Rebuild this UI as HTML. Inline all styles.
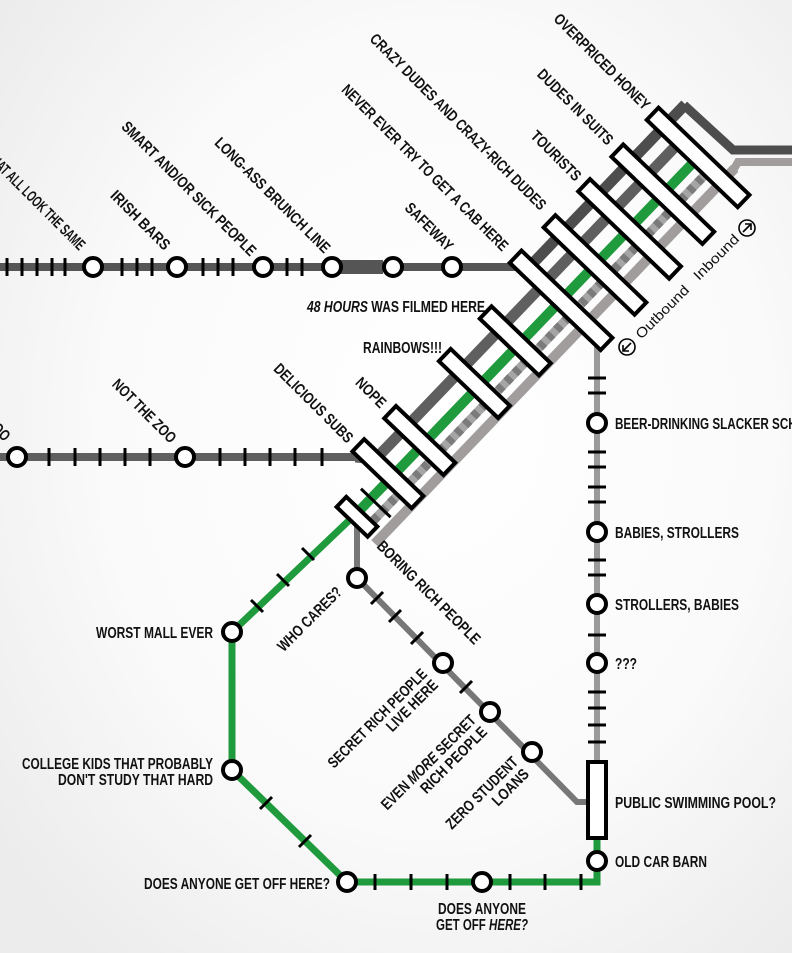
<!DOCTYPE html>
<html><head><meta charset="utf-8"><style>
html,body{margin:0;padding:0;}
body{width:792px;height:953px;overflow:hidden;}
svg{display:block;}
text{font-family:"Liberation Sans Narrow","Liberation Sans",sans-serif;font-weight:bold;font-size:15.5px;fill:#111;}
.r{font-weight:normal;font-family:"Liberation Sans",sans-serif;font-size:14px;}
</style></head><body>
<svg width="792" height="953" viewBox="0 0 792 953" xmlns="http://www.w3.org/2000/svg">
<defs>
<radialGradient id="bg" cx="55%" cy="45%" r="70%">
<stop offset="0" stop-color="#ffffff"/><stop offset="0.6" stop-color="#fafafa"/><stop offset="1" stop-color="#ececec"/>
</radialGradient>
</defs>
<rect width="792" height="953" fill="url(#bg)"/>

<line x1="0" y1="267" x2="516" y2="267" stroke="#555" stroke-width="8"/>
<line x1="333" y1="267" x2="383" y2="267" stroke="#555" stroke-width="14"/>
<line x1="0" y1="457" x2="356" y2="457" stroke="#5f5f5f" stroke-width="8"/>
<g stroke="#000" stroke-width="3">
<line x1="7" y1="258" x2="7" y2="276"/><line x1="22" y1="258" x2="22" y2="276"/><line x1="37" y1="258" x2="37" y2="276"/><line x1="52" y1="258" x2="52" y2="276"/><line x1="65" y1="258" x2="65" y2="276"/>
<line x1="122" y1="258" x2="122" y2="276"/><line x1="137" y1="258" x2="137" y2="276"/><line x1="152" y1="258" x2="152" y2="276"/>
<line x1="203" y1="258" x2="203" y2="276"/><line x1="218" y1="258" x2="218" y2="276"/><line x1="233" y1="258" x2="233" y2="276"/>
<line x1="287" y1="258" x2="287" y2="276"/><line x1="302" y1="258" x2="302" y2="276"/>
<line x1="49" y1="448" x2="49" y2="466"/><line x1="75" y1="448" x2="75" y2="466"/><line x1="100" y1="448" x2="100" y2="466"/><line x1="125" y1="448" x2="125" y2="466"/><line x1="150" y1="448" x2="150" y2="466"/>
<line x1="220" y1="448" x2="220" y2="466"/><line x1="245" y1="448" x2="245" y2="466"/><line x1="270" y1="448" x2="270" y2="466"/><line x1="295" y1="448" x2="295" y2="466"/><line x1="322" y1="448" x2="322" y2="466"/>
</g>

<polyline points="684,105 733,150 792,150" fill="none" stroke="#4d4d4d" stroke-width="9"/>
<polyline points="734,169 738,162 792,162" fill="none" stroke="#a19d9d" stroke-width="8"/>

<polyline points="357,522 357,578 577,802 590,802" fill="none" stroke="#777" stroke-width="6"/>
<g stroke="#000" stroke-width="3">
<line x1="371" y1="604" x2="383" y2="592"/><line x1="389" y1="622" x2="401" y2="610"/><line x1="411" y1="644" x2="423" y2="632"/><line x1="460" y1="693" x2="472" y2="681"/>
</g>

<line x1="597" y1="340" x2="597" y2="765" stroke="#9a9a9a" stroke-width="6"/>
<g stroke="#000" stroke-width="3">
<line x1="588" y1="378" x2="606" y2="378"/><line x1="588" y1="393" x2="606" y2="393"/>
<line x1="588" y1="452" x2="606" y2="452"/><line x1="588" y1="467" x2="606" y2="467"/><line x1="588" y1="487" x2="606" y2="487"/><line x1="588" y1="502" x2="606" y2="502"/>
<line x1="588" y1="560" x2="606" y2="560"/><line x1="588" y1="575" x2="606" y2="575"/>
<line x1="588" y1="635" x2="606" y2="635"/>
<line x1="588" y1="692" x2="606" y2="692"/><line x1="588" y1="708" x2="606" y2="708"/><line x1="588" y1="725" x2="606" y2="725"/><line x1="588" y1="742" x2="606" y2="742"/>
</g>

<polyline points="360,510 232,632 232,770 347,882 597,882 597,838" fill="none" stroke="#1f9a3c" stroke-width="7" stroke-linejoin="miter"/>
<g stroke="#000" stroke-width="3">
<line x1="302" y1="548" x2="314" y2="560"/><line x1="277" y1="574" x2="289" y2="586"/><line x1="251" y1="600" x2="263" y2="612"/>
<line x1="260" y1="809" x2="272" y2="797"/><line x1="299" y1="847" x2="311" y2="835"/>
<line x1="375" y1="874" x2="375" y2="890"/><line x1="411" y1="874" x2="411" y2="890"/><line x1="447" y1="874" x2="447" y2="890"/>
<line x1="510" y1="874" x2="510" y2="890"/><line x1="545" y1="874" x2="545" y2="890"/><line x1="581" y1="874" x2="581" y2="890"/>
</g>

<g transform="translate(360,510) rotate(-46.2)">
<polyline points="35,-40 48,-24 495,-24" fill="none" stroke="#5f5f5f" stroke-width="11"/>
<polyline points="283,-56 296,-46 518,-46" fill="none" stroke="#4d4d4d" stroke-width="11"/>
<line x1="-2" y1="0" x2="480" y2="0" stroke="#1f9a3c" stroke-width="10"/>
<line x1="-10" y1="17" x2="490" y2="17" stroke="#a5a5a5" stroke-width="9"/>
<line x1="-10" y1="17" x2="490" y2="17" stroke="#7b7b7b" stroke-width="9" stroke-dasharray="6 6"/>
<line x1="-14" y1="34" x2="506" y2="34" stroke="#a19d9d" stroke-width="10"/>
<line x1="16" y1="-14" x2="16" y2="27" stroke="#000" stroke-width="3"/>
<g fill="#fff" stroke="#000" stroke-width="4">
<rect x="-14" y="-19" width="14" height="43"/>
<rect x="37" y="-46" width="17" height="82"/>
<rect x="83" y="-46" width="17" height="82"/>
<rect x="162" y="-46" width="17" height="82"/>
<rect x="221" y="-46" width="17" height="82"/>
<rect x="282" y="-63" width="17" height="126"/>
<rect x="331" y="-63" width="17" height="126"/>
<rect x="381" y="-63" width="17" height="126"/>
<rect x="429" y="-63" width="17" height="126"/>
<rect x="480" y="-63" width="17" height="126"/>
</g>
</g>

<rect x="588" y="762" width="18" height="76" fill="#fff" stroke="#000" stroke-width="4"/>

<g fill="#fff" stroke="#000" stroke-width="4">
<circle cx="93" cy="267" r="9"/><circle cx="177" cy="267" r="9"/><circle cx="263" cy="267" r="9"/><circle cx="332" cy="267" r="9"/><circle cx="393" cy="267" r="9"/><circle cx="452" cy="267" r="9"/>
<circle cx="17" cy="457" r="9"/><circle cx="185" cy="457" r="9"/>
<circle cx="357" cy="578" r="9"/><circle cx="443" cy="663" r="9"/><circle cx="490" cy="712" r="9"/><circle cx="532" cy="752" r="9"/>
<circle cx="597" cy="423" r="9"/><circle cx="597" cy="532" r="9"/><circle cx="597" cy="604" r="9"/><circle cx="597" cy="663" r="9"/><circle cx="597" cy="861" r="9"/>
<circle cx="232" cy="632" r="9"/><circle cx="232" cy="770" r="9"/><circle cx="347" cy="882" r="9"/><circle cx="482" cy="882" r="9"/>
</g>

<g fill="none" stroke="#000" stroke-width="1.6">
<circle cx="627" cy="347" r="8"/>
<line x1="631" y1="343" x2="623" y2="351"/><polyline points="623,345 623,351 629,351"/>
<circle cx="747" cy="228" r="8"/>
<line x1="743" y1="232" x2="751" y2="224"/><polyline points="745,224 751,224 751,230"/>
</g>
<text class="r" x="690" y="291" text-anchor="end" transform="rotate(-45 690 291)" textLength="69" lengthAdjust="spacingAndGlyphs">Outbound</text>
<text class="r" x="740" y="240" text-anchor="end" transform="rotate(-45 740 240)" textLength="58" lengthAdjust="spacingAndGlyphs">Inbound</text>

<g text-anchor="end">
<text x="79" y="251" transform="rotate(45 79 251)" textLength="132" lengthAdjust="spacingAndGlyphs">THAT ALL LOOK THE SAME</text>
<text x="164" y="251" transform="rotate(45 164 251)" textLength="77" lengthAdjust="spacingAndGlyphs">IRISH BARS</text>
<text x="250" y="257" transform="rotate(45 250 257)" textLength="183" lengthAdjust="spacingAndGlyphs">SMART AND/OR SICK PEOPLE</text>
<text x="324" y="254" transform="rotate(45 324 254)" textLength="156" lengthAdjust="spacingAndGlyphs">LONG-ASS BRUNCH LINE</text>
<text x="447" y="252" transform="rotate(45 447 252)" textLength="61" lengthAdjust="spacingAndGlyphs">SAFEWAY</text>
<text x="502" y="252" transform="rotate(45 502 252)" textLength="228" lengthAdjust="spacingAndGlyphs">NEVER EVER TRY TO GET A CAB HERE</text>
<text x="540" y="211" transform="rotate(45 540 211)" textLength="242" lengthAdjust="spacingAndGlyphs">CRAZY DUDES AND CRAZY-RICH DUDES</text>
<text x="575" y="182" transform="rotate(45 575 182)" textLength="64" lengthAdjust="spacingAndGlyphs">TOURISTS</text>
<text x="607" y="146" transform="rotate(45 607 146)" textLength="100" lengthAdjust="spacingAndGlyphs">DUDES IN SUITS</text>
<text x="644" y="111" transform="rotate(45 644 111)" textLength="129" lengthAdjust="spacingAndGlyphs">OVERPRICED HONEY</text>
<text x="380" y="409" transform="rotate(45 380 409)" textLength="36" lengthAdjust="spacingAndGlyphs">NOPE</text>
<text x="347" y="444" transform="rotate(45 347 444)" textLength="105" lengthAdjust="spacingAndGlyphs">DELICIOUS SUBS</text>
<text x="170" y="444" transform="rotate(45 170 444)" textLength="83" lengthAdjust="spacingAndGlyphs">NOT THE ZOO</text>
<text x="4" y="442" transform="rotate(45 4 442)" textLength="52" lengthAdjust="spacingAndGlyphs">THE ZOO</text>
</g>
<text x="376" y="547" transform="rotate(45 376 547)" textLength="139" lengthAdjust="spacingAndGlyphs">BORING RICH PEOPLE</text>

<g text-anchor="end">
<text x="343" y="593" transform="rotate(-45 343 593)" textLength="84" lengthAdjust="spacingAndGlyphs">WHO CARES?</text>
<text x="428" y="675" transform="rotate(-45 428 675)" textLength="133" lengthAdjust="spacingAndGlyphs">SECRET RICH PEOPLE</text>
<text x="439" y="686" transform="rotate(-45 439 686)" textLength="66" lengthAdjust="spacingAndGlyphs">LIVE HERE</text>
<text x="477" y="721" transform="rotate(-45 477 721)" textLength="127" lengthAdjust="spacingAndGlyphs">EVEN <tspan font-style="italic">MORE</tspan> SECRET</text>
<text x="488" y="733" transform="rotate(-45 488 733)" textLength="87" lengthAdjust="spacingAndGlyphs">RICH PEOPLE</text>
<text x="519" y="763" transform="rotate(-45 519 763)" textLength="95" lengthAdjust="spacingAndGlyphs">ZERO STUDENT</text>
<text x="530" y="775" transform="rotate(-45 530 775)" textLength="45" lengthAdjust="spacingAndGlyphs">LOANS</text>
</g>

<text x="485" y="312" text-anchor="end" textLength="178" lengthAdjust="spacingAndGlyphs"><tspan font-style="italic">48 HOURS</tspan> WAS FILMED HERE</text>
<text x="363" y="353" textLength="79" lengthAdjust="spacingAndGlyphs">RAINBOWS!!!</text>
<text x="615" y="429" textLength="207" lengthAdjust="spacingAndGlyphs">BEER-DRINKING SLACKER SCHOOL</text>
<text x="615" y="538" textLength="124" lengthAdjust="spacingAndGlyphs">BABIES, STROLLERS</text>
<text x="615" y="610" textLength="124" lengthAdjust="spacingAndGlyphs">STROLLERS, BABIES</text>
<text x="615" y="669" textLength="22" lengthAdjust="spacingAndGlyphs">???</text>
<text x="615" y="808" textLength="161" lengthAdjust="spacingAndGlyphs">PUBLIC SWIMMING POOL?</text>
<text x="615" y="867" textLength="92" lengthAdjust="spacingAndGlyphs">OLD CAR BARN</text>
<text x="213" y="638" text-anchor="end" textLength="117" lengthAdjust="spacingAndGlyphs">WORST MALL EVER</text>
<text x="213" y="769" text-anchor="end" textLength="191" lengthAdjust="spacingAndGlyphs">COLLEGE KIDS THAT PROBABLY</text>
<text x="213" y="785" text-anchor="end" textLength="155" lengthAdjust="spacingAndGlyphs">DON'T STUDY THAT HARD</text>
<text x="330" y="889" text-anchor="end" textLength="186" lengthAdjust="spacingAndGlyphs">DOES ANYONE GET OFF HERE?</text>
<text x="482" y="914" text-anchor="middle" textLength="88" lengthAdjust="spacingAndGlyphs">DOES ANYONE</text>
<text x="482" y="930" text-anchor="middle" textLength="92" lengthAdjust="spacingAndGlyphs">GET OFF <tspan font-style="italic">HERE?</tspan></text>
</svg>
</body></html>
